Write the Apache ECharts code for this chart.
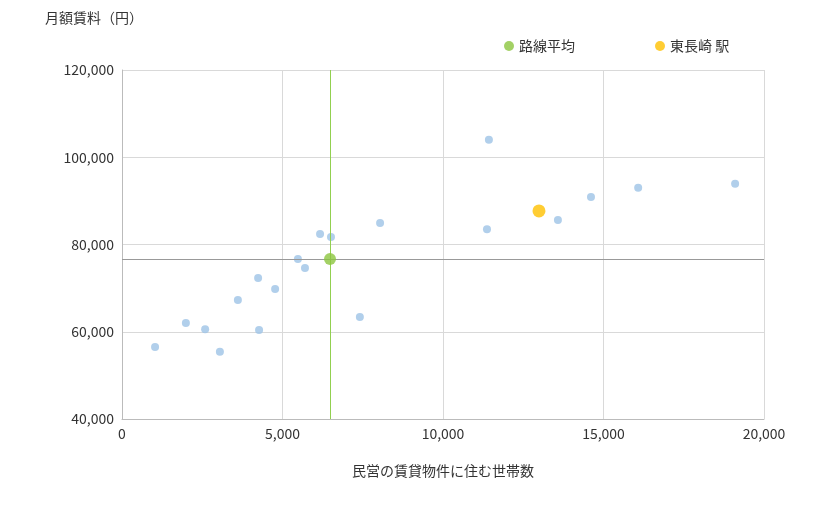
<!DOCTYPE html>
<html><head><meta charset="utf-8">
<script src="https://cdn.jsdelivr.net/npm/echarts@6/dist/echarts.min.js"></script>
<style>html,body{margin:0;padding:0;background:#fff}#c{width:820px;height:510px}</style>
</head><body><div id="c"></div>
<script>
const others = [[1030,56500],[1990,62000],[2590,60600],[3050,55400],[3610,67300],[4240,72300],[4270,60400],[4770,69800],[5480,76700],[5700,74600],[6170,82400],[6510,81700],[7410,63400],[8040,84900],[11370,83500],[11430,104000],[13580,85600],[14610,90900],[16080,93000],[19100,93900]];
const average = [[6480,76700]];
const station = [[12990,87700]];
const F = '"Noto Sans CJK JP", sans-serif';
const chart = echarts.init(document.getElementById('c'));
chart.setOption({
  animation:false,
  textStyle:{fontFamily:F},
  grid:{left:122,right:56,top:70,bottom:91},
  legend:{top:34,left:499,itemGap:80,itemWidth:10,itemHeight:10,icon:'circle',textStyle:{fontSize:14,color:'#333',fontFamily:F},
    data:['路線平均','東長崎 駅']},
  xAxis:{type:'value',min:0,max:20000,interval:5000,name:'民営の賃貸物件に住む世帯数',nameLocation:'middle',nameGap:45,
    nameTextStyle:{fontSize:14,color:'#333'},
    axisLine:{lineStyle:{color:'#bbb'}},axisTick:{show:false},
    axisLabel:{fontSize:14,color:'#333',formatter:v=>v.toLocaleString('en-US')},
    splitLine:{lineStyle:{color:'#d9d9d9'}}},
  yAxis:{type:'value',min:40000,max:120000,interval:20000,
    axisLine:{show:true,lineStyle:{color:'#bbb'}},axisTick:{show:false},
    axisLabel:{fontSize:14,color:'#333',formatter:v=>v.toLocaleString('en-US')},
    splitLine:{lineStyle:{color:'#d9d9d9'}}},
  graphic:[{type:'text',left:45,top:11,style:{text:'月額賃料（円）',fontSize:14,fill:'#333',fontFamily:F}}],
  series:[
    {type:'scatter',data:others,symbolSize:8,itemStyle:{color:'#9dc3e6'}},
    {name:'路線平均',type:'scatter',data:average,symbolSize:12,itemStyle:{color:'#8cc63f'},z:5,
      markLine:{silent:true,symbol:'none',label:{show:false},animation:false,
        data:[{xAxis:average[0][0],lineStyle:{color:'#92d050',width:1,type:'solid'}},
              {yAxis:average[0][1],lineStyle:{color:'#999',width:1,type:'solid'}}]}},
    {name:'東長崎 駅',type:'scatter',data:station,symbolSize:13,itemStyle:{color:'#ffc000'},z:5}
  ]
});
</script></body></html>
